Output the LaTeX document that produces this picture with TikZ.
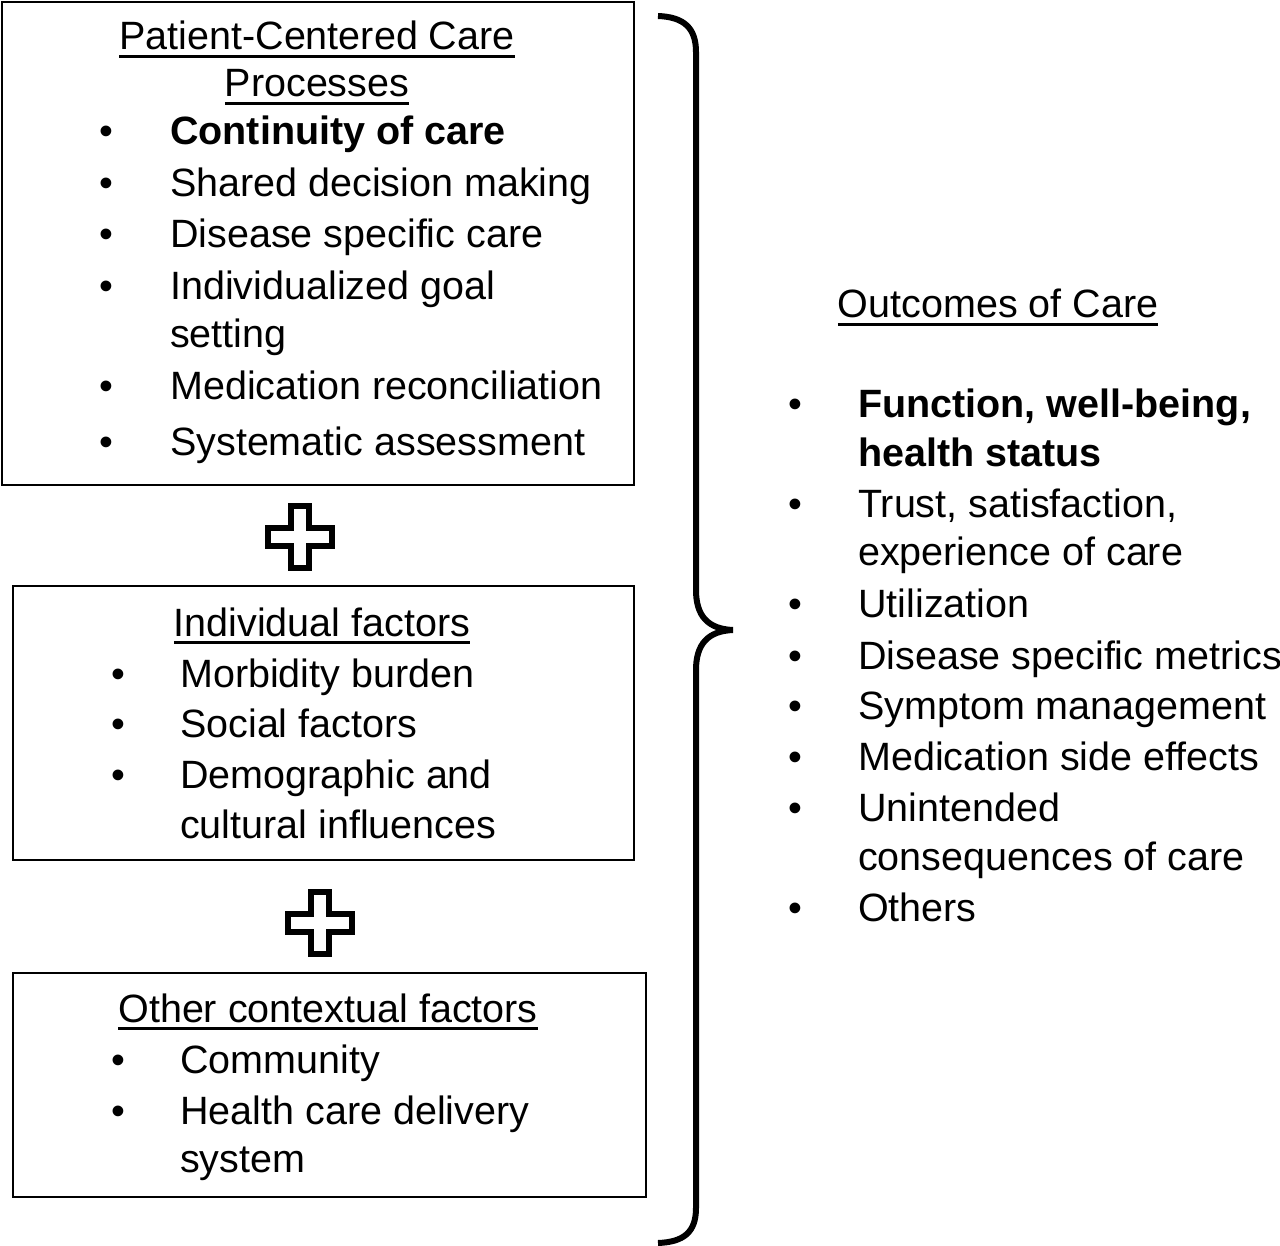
\documentclass[tikz,border=0pt]{standalone}
\usepackage{fontspec}
\setmainfont{Liberation Sans}
\newcommand\ulx[1]{\setbox0\hbox{#1}\rlap{\rule[-0.19em]{\wd0}{0.055em}}\box0}
\begin{document}
\begin{tikzpicture}[x=1pt,y=-1pt,
  every node/.style={font=\fontsize{39.5}{47}\selectfont, inner sep=0pt},
  box/.style={draw, line width=2pt, anchor=north west},
  txt/.style={anchor=base west},
  ttl/.style={anchor=base},
  bul/.style={anchor=base},
  plusshape/.style={line width=6.5pt, line join=miter}]
\useasboundingbox (0,0) rectangle (1280,1246);
\fill[white] (0,0) rectangle (1280,1246);
% boxes
\node[box, minimum width=632pt, minimum height=483pt] (procbox) at (1,1) {};
\node[box, minimum width=621pt, minimum height=274pt] (indbox) at (12,585) {};
\node[box, minimum width=633pt, minimum height=224pt] (ctxbox) at (12,972) {};
% box 1
\node[ttl] (t1a) at (317,50) {\ulx{Patient-Centered Care}};
\node[ttl] (t1b) at (317,97) {\ulx{Processes}};
\foreach \y/\n in {145/a,197/b,248/c,300/d,400/f,455/g}{\node[bul] (b1\n) at (106,\y) {•};}
\node[txt] (p1) at (170,145) {\textbf{Continuity of care}};
\node[txt] (p2) at (170,197) {Shared decision making};
\node[txt] (p3) at (170,248) {Disease specific care};
\node[txt] (p4) at (170,300) {Individualized goal};
\node[txt] (p4b) at (170,348) {setting};
\node[txt] (p5) at (170,400) {Medication reconciliation};
\node[txt] (p6) at (170,455) {Systematic assessment};
% box 2
\node[ttl] (t2) at (322,636) {\ulx{Individual factors}};
\foreach \y/\n in {687/a,737/b,788/c}{\node[bul] (b2\n) at (118,\y) {•};}
\node[txt] (i1) at (180,687) {Morbidity burden};
\node[txt] (i2) at (180,737) {Social factors};
\node[txt] (i3) at (180,788) {Demographic and};
\node[txt] (i3b) at (180,838) {cultural influences};
% box 3
\node[ttl] (t3) at (328,1022) {\ulx{Other contextual factors}};
\foreach \y/\n in {1073/a,1124/b}{\node[bul] (b3\n) at (118,\y) {•};}
\node[txt] (c1) at (180,1073) {Community};
\node[txt] (c2) at (180,1124) {Health care delivery};
\node[txt] (c2b) at (180,1172) {system};
% plus signs
\foreach \cx/\cy in {300/537,320/923}{
\draw[plusshape] (\cx-9,\cy-31) -- (\cx+9,\cy-31) -- (\cx+9,\cy-9) -- (\cx+32,\cy-9) -- (\cx+32,\cy+9) -- (\cx+9,\cy+9) -- (\cx+9,\cy+31) -- (\cx-9,\cy+31) -- (\cx-9,\cy+9) -- (\cx-32,\cy+9) -- (\cx-32,\cy-9) -- (\cx-9,\cy-9) -- cycle;}
% brace
\draw[line width=6pt] (658,16) .. controls (684,17) and (696,28) .. (696,52) -- (696,590)
  .. controls (696,616) and (708,629) .. (733,630);
\draw[line width=6pt] (733,630) .. controls (708,631) and (696,644) .. (696,670) -- (696,1208)
  .. controls (696,1232) and (684,1242) .. (658,1243);
% outcomes
\node[ttl] (t4) at (998,318) {\ulx{Outcomes of Care}};
\foreach \y/\n in {418/a,517/b,617/c,669/d,719/e,770/f,821/g,921/h}{\node[bul] (b4\n) at (795,\y) {•};}
\node[txt] (o1) at (858,418) {\textbf{Function, well-being,}};
\node[txt] (o1b) at (858,466) {\textbf{health status}};
\node[txt] (o2) at (858,517) {Trust, satisfaction,};
\node[txt] (o2b) at (858,565) {experience of care};
\node[txt] (o3) at (858,617) {Utilization};
\node[txt] (o4) at (858,669) {Disease specific metrics};
\node[txt] (o5) at (858,719) {Symptom management};
\node[txt] (o6) at (858,770) {Medication side effects};
\node[txt] (o7) at (858,821) {Unintended};
\node[txt] (o7b) at (858,870) {consequences of care};
\node[txt] (o8) at (858,921) {Others};
\end{tikzpicture}
\end{document}
